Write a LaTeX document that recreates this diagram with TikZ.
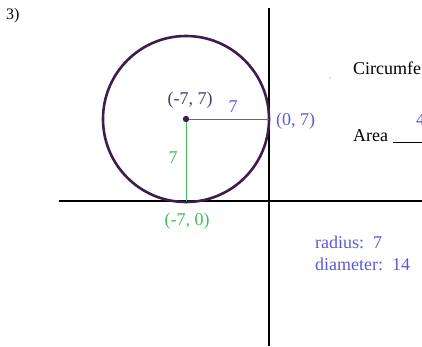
\documentclass[tikz,border=0pt]{standalone}
\usepackage{fontspec}
\setmainfont{Liberation Serif}
\usepackage{xcolor}
\usepackage{tikz}
\definecolor{CircPurple}{HTML}{3F1C4D}
\definecolor{RadBlue}{HTML}{5A5AD8}
\definecolor{RadGreen}{HTML}{3CBF5A}
\definecolor{PtPurple}{HTML}{4E3A70}

\begin{document}
\begin{tikzpicture}[
  x=1pt, y=-1pt,
  axis/.style={line width=2.4pt, draw=black},
  lbl/.style={inner sep=0pt, font=\fontsize{18}{21}\selectfont},
  blu/.style={lbl, text=RadBlue},
  grn/.style={lbl, text=RadGreen}
]
\clip (0,0) rectangle (422,346);
% axes
\coordinate (ytop) at (269,8);
\coordinate (ybot) at (269,346);
\coordinate (xlft) at (59,201);
\coordinate (xrgt) at (422,201);
\draw[axis] (ytop) -- (ybot);
\draw[axis] (xlft) -- (xrgt);
% circle and radii
\coordinate (ctr) at (186,119);
\coordinate (side) at (269,119);
\coordinate (foot) at (186,201);
\draw[CircPurple, line width=2.6pt] (ctr) circle[radius=83];
\draw[RadBlue, line width=0.8pt] (ctr) -- (side);
\draw[RadGreen, line width=0.8pt] (ctr) -- (foot);
\fill[CircPurple] (ctr) circle[radius=3.2];
% labels
\node[lbl, anchor=base west, font=\fontsize{16}{18}\selectfont] (num) at (6,19) {3)};
\node[lbl, text=PtPurple, anchor=base] (cpt) at (190,104) {(-7, 7)};
\node[blu, anchor=base] (rh) at (233,112) {7};
\node[blu, anchor=base west] (spt) at (276,125) {(0, 7)};
\node[grn, anchor=base] (rv) at (173,163) {7};
\node[grn, anchor=base] (fpt) at (187,225) {(-7, 0)};
\node[blu, anchor=base west] (rad) at (315,248) {radius:\ \ 7};
\node[blu, anchor=base west] (dia) at (315,270) {diameter:\ \ 14};
\node[lbl, anchor=base west] (circ) at (353,74) {Circumfe};
\node[lbl, anchor=base west] (area) at (353,141) {Area};
\coordinate (ul) at (393,142);
\coordinate (ur) at (422,142);
\draw[black, line width=0.7pt] (ul) -- (ur);
\node[blu, anchor=base west] (ans) at (416,125) {4};
\fill[RadBlue] (330,78) circle[radius=0.6];
\end{tikzpicture}
\end{document}
